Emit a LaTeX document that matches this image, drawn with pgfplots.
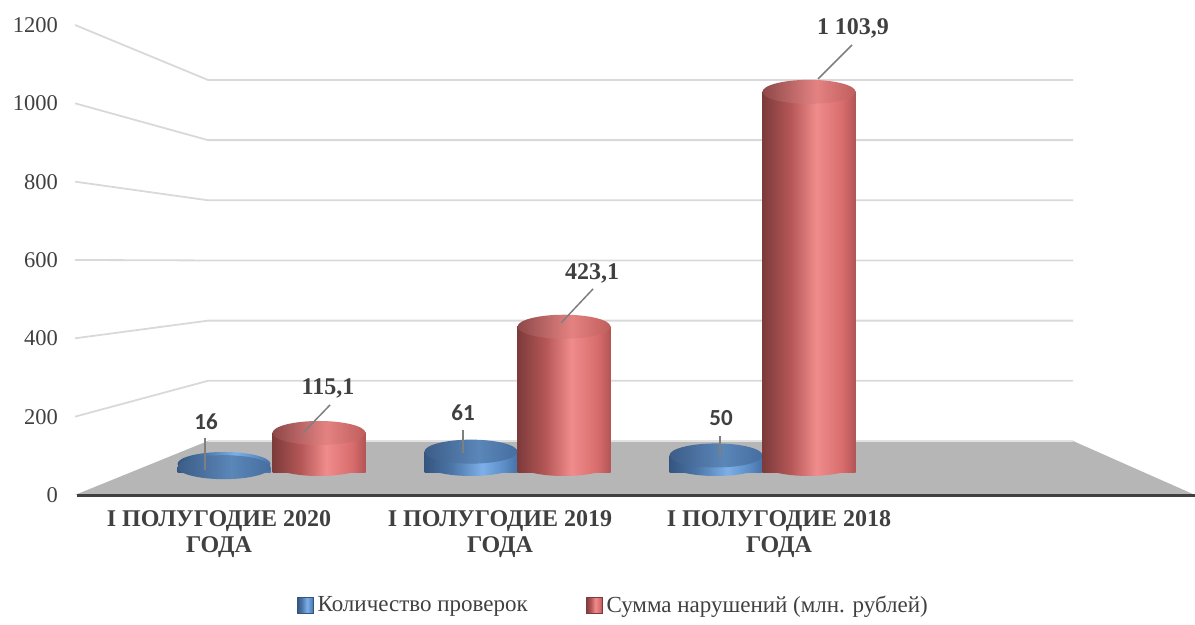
\documentclass[border=0pt]{standalone}
\usepackage{pgfplots}
\pgfplotsset{compat=1.18}
\usetikzlibrary{shapes.geometric}
\usepackage{fontspec}
\setmainfont{Liberation Serif}
\newfontfamily\carlito{Carlito}

\definecolor{textgray}{HTML}{404040}
\definecolor{floorgray}{HTML}{B6B6B6}
\definecolor{gridc}{HTML}{D9D9D9}
\definecolor{leader}{HTML}{7F7F7F}
\definecolor{rA}{HTML}{7D3B3B}
\definecolor{rB}{HTML}{B55656}
\definecolor{rC}{HTML}{F08C8C}
\definecolor{rD}{HTML}{D86C6C}
\definecolor{rE}{HTML}{B35555}
\definecolor{bA}{HTML}{34557F}
\definecolor{bB}{HTML}{4C77A8}
\definecolor{bC}{HTML}{7DB0E8}
\definecolor{bD}{HTML}{5A8CC6}
\definecolor{bE}{HTML}{4672A6}
\definecolor{rcA}{HTML}{8E4848}
\definecolor{rcC}{HTML}{E48282}
\definecolor{rcE}{HTML}{C05E5E}
\definecolor{bcA}{HTML}{3C5D88}
\definecolor{bcC}{HTML}{5A86B8}
\definecolor{bcE}{HTML}{466DA0}

\pgfdeclarehorizontalshading{redcyl}{100bp}{color(0bp)=(rA); color(25bp)=(rA); color(40bp)=(rB); color(54bp)=(rC); color(68bp)=(rD); color(75bp)=(rE); color(100bp)=(rE)}
\pgfdeclarehorizontalshading{bluecyl}{100bp}{color(0bp)=(bA); color(25bp)=(bA); color(40bp)=(bB); color(56bp)=(bC); color(68bp)=(bD); color(75bp)=(bE); color(100bp)=(bE)}
\pgfdeclarehorizontalshading{redcap}{100bp}{color(0bp)=(rcA); color(25bp)=(rcA); color(54bp)=(rcC); color(75bp)=(rcE); color(100bp)=(rcE)}
\pgfdeclarehorizontalshading{bluecap}{100bp}{color(0bp)=(bcA); color(25bp)=(bcA); color(54bp)=(bcC); color(75bp)=(bcE); color(100bp)=(bcE)}

\pgfplotsset{
  cyl/.style n args={2}{ybar, bar width=93, draw=none, shade, shading=#1, nodes near coords={},
    every node near coord/.append style={ellipse, shade, shading=#2, minimum width=46.5pt, minimum height=12pt, inner sep=0pt, anchor=center}},
  rim/.style={draw=none, mark=none, forget plot, nodes near coords={},
    every node near coord/.append style={ellipse, shade, shading=#1, minimum width=46.5pt, minimum height=12pt, inner sep=0pt, anchor=center, yshift=4.35pt}},
}

\begin{document}
\begin{tikzpicture}
% ---------- background axis: wall grid, floor, ticks, labels ----------
\begin{axis}[
  scale only axis, width=560pt, height=235pt,
  xmin=75, xmax=1195, ymin=0, ymax=1200,
  clip=false,
  axis line style={draw=none}, major tick length=0pt,
  ytick={0,200,...,1200},
  /pgf/number format/assume math mode=true,
  /pgf/number format/1000 sep={},
  yticklabel style={font=\fontsize{11.25}{13}\selectfont, text=textgray, xshift=-5pt},
  xtick={219,500,779},
  xticklabels={{I ПОЛУГОДИЕ 2020\\ГОДА},{I ПОЛУГОДИЕ 2019\\ГОДА},{I ПОЛУГОДИЕ 2018\\ГОДА}},
  xticklabel style={align=center, font=\bfseries\fontsize{12}{13}\selectfont, text=textgray, yshift=-4pt},
]
% wall grid lines (front level -> back wall)
\addplot[gridc, line width=0.9pt, forget plot] coordinates {(75,200) (208,291.5) (1073,291.5)};
\addplot[gridc, line width=0.9pt, forget plot] coordinates {(75,400) (208,445.1) (1073,445.1)};
\addplot[gridc, line width=0.9pt, forget plot] coordinates {(75,600) (208,598.8) (1073,598.8)};
\addplot[gridc, line width=0.9pt, forget plot] coordinates {(75,800) (208,752.4) (1073,752.4)};
\addplot[gridc, line width=0.9pt, forget plot] coordinates {(75,1000) (208,906.0) (1073,906.0)};
\addplot[gridc, line width=0.9pt, forget plot] coordinates {(75,1200) (208,1059.6) (1073,1059.6)};
% floor
\addplot[fill=floorgray, draw=none, forget plot] coordinates {(75,0) (208,137.9) (1073,137.9) (1195,0)} -- cycle;
\addplot[gridc!80!white, line width=0.6pt, forget plot] coordinates {(208,137.9) (1073,137.9)};
\addplot[textgray, line width=1.5pt, forget plot] coordinates {(77,-2) (1195,-2)};
\coordinate (BL) at (axis cs:0,-331.9);
\coordinate (TR) at (axis cs:1195,1263.8);
\end{axis}

% ---------- cylinder bars ----------
\begin{axis}[
  scale only axis, width=560pt, height=235pt,
  xmin=75, xmax=1195, ymin=-64.6, ymax=1297.7,
  hide axis, clip=false,
  legend columns=2,
  legend style={at={(0.4815,-0.236)}, anchor=center, draw=none, fill=none,
    font=\fontsize{11.5}{13}\selectfont, text=textgray,
    /tikz/every even column/.append style={column sep=27pt}},
]
% Количество проверок (blue)
\addplot[rim=bluecyl] coordinates {(224,0)};
\addplot[cyl={bluecyl}{bluecap},
  legend image code/.code={\path[shade, shading=bluecyl, draw=bA] (0pt,-4pt) rectangle (8pt,4pt);}]
  coordinates {(224,16)};
\addlegendentry{Количество проверок}
\addplot[rim=bluecyl] coordinates {(471,0)};
\addplot[cyl={bluecyl}{bluecap}, forget plot] coordinates {(471,61)};
\addplot[rim=bluecyl] coordinates {(716,0)};
\addplot[cyl={bluecyl}{bluecap}, forget plot] coordinates {(716,50)};
% Сумма нарушений (red)
\addplot[rim=redcyl] coordinates {(319,0)};
\addplot[cyl={redcyl}{redcap},
  legend image code/.code={\path[shade, shading=redcyl, draw=rA] (0pt,-4pt) rectangle (8pt,4pt);}]
  coordinates {(319,115.1)};
\addlegendentry{Сумма нарушений (млн. рублей)}
\addplot[rim=redcyl] coordinates {(564,0)};
\addplot[cyl={redcyl}{redcap}, forget plot] coordinates {(564,423.1)};
\addplot[rim=redcyl] coordinates {(809,0)};
\addplot[cyl={redcyl}{redcap}, forget plot] coordinates {(809,1103.9)};
\end{axis}

% ---------- data labels (same pixel-based frame as background axis) ----------
\begin{axis}[
  scale only axis, width=560pt, height=235pt,
  xmin=75, xmax=1195, ymin=0, ymax=1200,
  hide axis, clip=false,
]
\addplot[leader, line width=0.75pt] coordinates {(205,145.5) (205,63.8)};
\addplot[leader, line width=0.75pt] coordinates {(330,229.8) (303,158.3)};
\addplot[leader, line width=0.75pt] coordinates {(463,166.0) (463,107.2)};
\addplot[leader, line width=0.75pt] coordinates {(593,526.0) (561,439.2)};
\addplot[leader, line width=0.75pt] coordinates {(720,150.6) (720,97.0)};
\addplot[leader, line width=0.75pt] coordinates {(852,1148.9) (818,1062.1)};
\node[font=\carlito\bfseries\fontsize{11.5}{13}\selectfont, text=textgray] at (axis cs:206,186.4) {16};
\node[font=\carlito\bfseries\fontsize{11.5}{13}\selectfont, text=textgray] at (axis cs:463,209.4) {61};
\node[font=\carlito\bfseries\fontsize{11.5}{13}\selectfont, text=textgray] at (axis cs:721,196.6) {50};
\node[font=\bfseries\fontsize{12}{13}\selectfont, text=textgray] at (axis cs:328,273.2) {115,1};
\node[font=\bfseries\fontsize{12}{13}\selectfont, text=textgray] at (axis cs:592,566.8) {423,1};
\node[font=\bfseries\fontsize{12}{13}\selectfont, text=textgray] at (axis cs:853,1192.3) {1 103,9};
\end{axis}
\pgfresetboundingbox
\path (BL) rectangle (TR);
\end{tikzpicture}
\end{document}
